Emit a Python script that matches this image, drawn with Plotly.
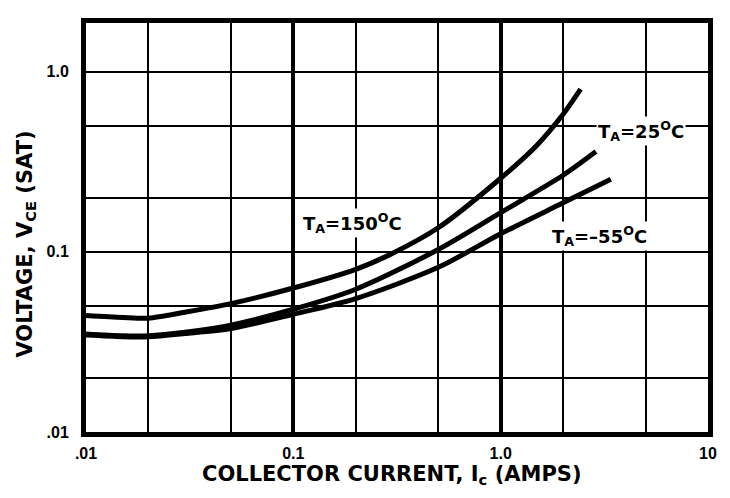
import plotly.graph_objects as go

# ---- data ----
ic_150 = [0.01, 0.015, 0.02, 0.03, 0.05, 0.1, 0.2, 0.3, 0.5, 1.0, 1.5, 2.0, 2.43]
vce_150 = [0.0443, 0.0432, 0.0428, 0.0462, 0.0516, 0.063, 0.080, 0.098, 0.136, 0.256, 0.392, 0.58, 0.80]

ic_25 = [0.01, 0.015, 0.02, 0.03, 0.05, 0.1, 0.2, 0.5, 1.0, 2.0, 2.88]
vce_25 = [0.0350, 0.0342, 0.0342, 0.0358, 0.0392, 0.048, 0.062, 0.103, 0.165, 0.266, 0.36]

ic_m55 = [0.01, 0.015, 0.02, 0.03, 0.05, 0.1, 0.2, 0.5, 1.0, 2.0, 3.4]
vce_m55 = [0.0345, 0.0338, 0.0338, 0.0352, 0.0375, 0.045, 0.055, 0.082, 0.126, 0.187, 0.253]

x_major = [0.01, 0.1, 1, 10]
x_major_text = [".01", "0.1", "1.0", "10"]
x_minor = [0.02, 0.05, 0.2, 0.5, 2, 5]
y_major = [0.01, 0.1, 1]
y_major_text = [".01", "0.1", "1.0"]
y_minor = [0.02, 0.05, 0.2, 0.5]

fig = go.Figure()
for xs, ys in [(ic_150, vce_150), (ic_25, vce_25), (ic_m55, vce_m55)]:
    fig.add_trace(go.Scatter(x=xs, y=ys, mode="lines",
                             line=dict(color="black", width=5, shape="spline", smoothing=0.8),
                             showlegend=False, hoverinfo="skip"))

tickfont = dict(family="Liberation Sans, Arial, sans-serif", size=16, color="black", weight="bold")

# the page body adds an 8px offset, so the figure is 8px smaller than the window
fig.update_layout(
    width=722, height=490,
    margin=dict(l=78, r=22, t=10, b=66),
    paper_bgcolor="white", plot_bgcolor="white",
    showlegend=False,
    xaxis=dict(type="log", range=[-2, 1], tickmode="array", tickvals=x_major, ticktext=x_major_text,
               showgrid=True, gridcolor="black", gridwidth=4,
               showline=True, linecolor="black", linewidth=5, mirror=True,
               ticks="", tickfont=tickfont, ticklabelstandoff=3, zeroline=False,
               minor=dict(tickmode="array", tickvals=x_minor, showgrid=True,
                          gridcolor="black", gridwidth=2, ticks="")),
    yaxis=dict(type="log", range=[-2, 0.27], tickmode="array", tickvals=y_major, ticktext=y_major_text,
               showgrid=True, gridcolor="black", gridwidth=2,
               showline=True, linecolor="black", linewidth=5, mirror=True,
               ticks="", tickfont=tickfont, ticklabelstandoff=9, zeroline=False,
               minor=dict(tickmode="array", tickvals=y_minor, showgrid=True,
                          gridcolor="black", gridwidth=2, ticks="")),
)

labfont = dict(family="DejaVu Sans, sans-serif", size=18, color="black", weight="bold")
titlefont = dict(family="DejaVu Sans, sans-serif", size=21, color="black", weight="bold")

annotations = [
    dict(text="T<sub>A</sub>=150<sup>O</sup>C", x=0.428, y=0.51),
    dict(text="T<sub>A</sub>=25<sup>O</sup>C", x=0.893, y=0.737),
    dict(text="T<sub>A</sub>=\u201355<sup>O</sup>C", x=0.826, y=0.478),
]
for a in annotations:
    fig.add_annotation(xref="paper", yref="paper", showarrow=False, font=labfont,
                       bgcolor="white", borderpad=1, xanchor="center", yanchor="middle", **a)

fig.add_annotation(xref="paper", yref="paper", x=0.492, y=-0.068, xanchor="center", yanchor="top",
                   showarrow=False, font=titlefont,
                   text="COLLECTOR CURRENT, I<sub>c</sub> (AMPS)")
fig.add_annotation(xref="paper", yref="paper", x=-0.097, y=0.46, xanchor="center", yanchor="middle",
                   showarrow=False, font=titlefont, textangle=-90,
                   text="VOLTAGE, V<sub>CE</sub> (SAT)")

fig.write_html("out.html")
